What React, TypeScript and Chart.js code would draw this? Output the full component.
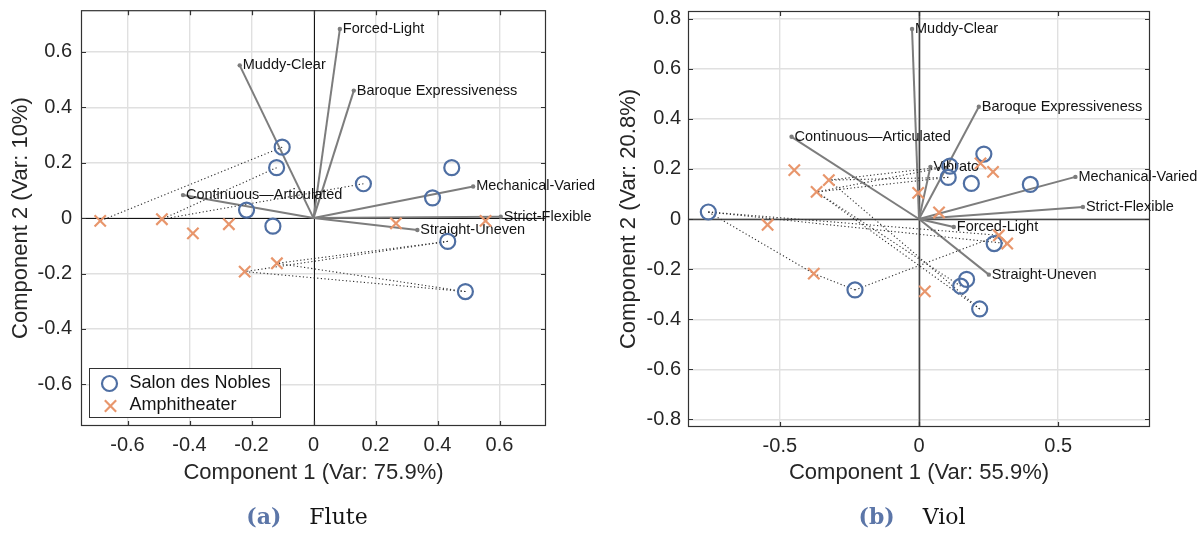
import React, { useEffect, useRef } from "react";
import { Chart, registerables } from "chart.js";

Chart.register(...registerables);

const SANS = '"Liberation Sans", Arial, Helvetica, sans-serif';
const SERIF = '"DejaVu Serif", "Liberation Serif", serif';

const SALON_COLOR = "rgb(79,111,163)";
const AMPH_COLOR = "rgb(232,150,108)";
const LOADING_COLOR = "rgb(125,125,125)";
const LINK_COLOR = "rgb(45,45,45)";
const TEXT_COLOR = "rgb(38,38,38)";
const GRID_COLOR = "rgb(224,224,224)";
const FRAME_COLOR = "rgb(50,50,50)";

const seriesNames = ["Salon des Nobles", "Amphitheater"];

// ---------- (a) Flute ----------
const fluteCaption = ["(a)", "Flute"];
const fluteXTicks = [-0.6, -0.4, -0.2, 0, 0.2, 0.4, 0.6];
const fluteYTicks = [-0.6, -0.4, -0.2, 0, 0.2, 0.4, 0.6];
const fluteRange = [-0.75, 0.75];
const fluteXTitle = "Component 1 (Var: 75.9%)";
const fluteYTitle = "Component 2 (Var: 10%)";
const fluteSalonX = [-0.101, -0.119, 0.161, 0.446, 0.384, -0.216, -0.131, 0.433, 0.49];
const fluteSalonY = [0.256, 0.182, 0.124, 0.182, 0.073, 0.029, -0.029, -0.084, -0.265];
const fluteAmphX = [-0.688, -0.489, -0.389, -0.273, 0.266, 0.555, -0.222, -0.118];
const fluteAmphY = [-0.01, -0.004, -0.055, -0.022, -0.019, -0.01, -0.193, -0.163];
const fluteLoadingNames = [
  "Forced-Light",
  "Muddy-Clear",
  "Baroque Expressiveness",
  "Continuous\u2014Articulated",
  "Mechanical-Varied",
  "Strict-Flexible",
  "Straight-Uneven",
];
const fluteLoadingX = [0.085, -0.238, 0.13, -0.421, 0.515, 0.604, 0.335];
const fluteLoadingY = [0.682, 0.551, 0.46, 0.083, 0.114, 0.005, -0.043];
// [salon index, amphitheater index]
const fluteLinks = [[0, 0], [1, 1], [2, 1], [7, 6], [7, 7], [8, 6], [8, 7]];

// ---------- (b) Viol ----------
const violCaption = ["(b)", "Viol"];
const violXTicks = [-0.5, 0, 0.5];
const violYTicks = [-0.8, -0.6, -0.4, -0.2, 0, 0.2, 0.4, 0.6, 0.8];
const violRange = [-0.83, 0.83];
const violXTitle = "Component 1 (Var: 55.9%)";
const violYTitle = "Component 2 (Var: 20.8%)";
const violSalonX = [-0.757, 0.111, 0.105, 0.233, 0.188, 0.4, 0.27, 0.171, 0.15, 0.218, -0.23];
const violSalonY = [0.028, 0.211, 0.166, 0.259, 0.142, 0.138, -0.098, -0.241, -0.268, -0.359, -0.283];
const violAmphX = [-0.448, -0.368, -0.324, -0.544, -0.003, 0.221, 0.266, 0.072, 0.287, 0.317, 0.021, -0.378];
const violAmphY = [0.195, 0.108, 0.155, -0.023, 0.104, 0.222, 0.188, 0.026, -0.065, -0.098, -0.289, -0.218];
const violLoadingNames = [
  "Muddy-Clear",
  "Baroque Expressiveness",
  "Continuous\u2014Articulated",
  "Vibrato",
  "Mechanical-Varied",
  "Strict-Flexible",
  "Forced-Light",
  "Straight-Uneven",
];
const violLoadingX = [-0.025, 0.215, -0.458, 0.041, 0.562, 0.589, 0.125, 0.251];
const violLoadingY = [0.758, 0.448, 0.328, 0.208, 0.168, 0.048, -0.032, -0.222];
const violLinks = [[1, 1], [2, 1], [1, 2], [2, 2], [0, 8], [0, 9], [0, 11], [10, 11], [10, 8], [9, 1], [9, 2], [8, 1]];

type Spec = {
  xTicks: number[];
  yTicks: number[];
  range: number[];
  xTitle: string;
  yTitle: string;
  salonX: number[];
  salonY: number[];
  amphX: number[];
  amphY: number[];
  loadingNames: string[];
  loadingX: number[];
  loadingY: number[];
  links: number[][];
  legend: boolean;
  zeroColor: string;
  zeroWidth: number;
};

type Layout = {
  yAxisWidth: number;
  padRight: number;
  padTop: number;
  padBottom: number;
  yTitleX: number;
  xTitleY: number;
  yTickPad: number;
  xTickPad: number;
};

const fluteSpec: Spec = {
  xTicks: fluteXTicks,
  yTicks: fluteYTicks,
  range: fluteRange,
  xTitle: fluteXTitle,
  yTitle: fluteYTitle,
  salonX: fluteSalonX,
  salonY: fluteSalonY,
  amphX: fluteAmphX,
  amphY: fluteAmphY,
  loadingNames: fluteLoadingNames,
  loadingX: fluteLoadingX,
  loadingY: fluteLoadingY,
  links: fluteLinks,
  legend: true,
  zeroColor: "rgb(20,20,20)",
  zeroWidth: 1,
};

const violSpec: Spec = {
  xTicks: violXTicks,
  yTicks: violYTicks,
  range: violRange,
  xTitle: violXTitle,
  yTitle: violYTitle,
  salonX: violSalonX,
  salonY: violSalonY,
  amphX: violAmphX,
  amphY: violAmphY,
  loadingNames: violLoadingNames,
  loadingX: violLoadingX,
  loadingY: violLoadingY,
  links: violLinks,
  legend: false,
  zeroColor: "rgb(70,70,70)",
  zeroWidth: 1.6,
};

const fluteLayout: Layout = { yAxisWidth: 81, padRight: 54, padTop: 9, padBottom: 68, yTitleX: 21, xTitleY: 473, yTickPad: 9, xTickPad: 7 };
const violLayout: Layout = { yAxisWidth: 88, padRight: 52, padTop: 11, padBottom: 67, yTitleX: 29, xTitleY: 473, yTickPad: 7, xTickPad: 7 };

function fmt(v: number) {
  const n = Math.round(Number(v) * 10) / 10;
  return n === 0 ? "0" : String(n);
}

function drawCircle(ctx: CanvasRenderingContext2D, x: number, y: number) {
  ctx.beginPath();
  ctx.arc(x, y, 7.5, 0, Math.PI * 2);
  ctx.strokeStyle = SALON_COLOR;
  ctx.lineWidth = 2.2;
  ctx.stroke();
}

function drawCross(ctx: CanvasRenderingContext2D, x: number, y: number) {
  const d = 8 * Math.SQRT1_2;
  ctx.beginPath();
  ctx.moveTo(x - d, y - d);
  ctx.lineTo(x + d, y + d);
  ctx.moveTo(x + d, y - d);
  ctx.lineTo(x - d, y + d);
  ctx.strokeStyle = AMPH_COLOR;
  ctx.lineWidth = 2.2;
  ctx.stroke();
}

function makePlugin(s: Spec, L: Layout) {
  return {
    id: "biplotFrame",
    beforeDatasetsDraw(chart: any) {
      const { ctx, chartArea: a, scales } = chart;
      const sx = scales.x;
      const sy = scales.y;
      ctx.save();
      // zero lines
      ctx.strokeStyle = s.zeroColor;
      ctx.lineWidth = s.zeroWidth;
      const x0 = Math.round(sx.getPixelForValue(0)) + 0.5;
      const y0 = Math.round(sy.getPixelForValue(0)) + 0.5;
      ctx.beginPath();
      ctx.moveTo(x0, a.top);
      ctx.lineTo(x0, a.bottom);
      ctx.moveTo(a.left, y0);
      ctx.lineTo(a.right, y0);
      ctx.stroke();
      // frame
      ctx.strokeStyle = FRAME_COLOR;
      ctx.lineWidth = 1.2;
      ctx.strokeRect(a.left + 0.5, a.top + 0.5, a.right - a.left - 1, a.bottom - a.top - 1);
      // inward tick marks
      const tl = 5;
      ctx.beginPath();
      s.xTicks.forEach((v) => {
        const px = Math.round(sx.getPixelForValue(v)) + 0.5;
        ctx.moveTo(px, a.bottom);
        ctx.lineTo(px, a.bottom - tl);
        ctx.moveTo(px, a.top);
        ctx.lineTo(px, a.top + tl);
      });
      s.yTicks.forEach((v) => {
        const py = Math.round(sy.getPixelForValue(v)) + 0.5;
        ctx.moveTo(a.left, py);
        ctx.lineTo(a.left + tl, py);
        ctx.moveTo(a.right, py);
        ctx.lineTo(a.right - tl, py);
      });
      ctx.stroke();
      ctx.restore();
    },
    beforeDatasetDraw(chart: any, args: any) {
      const ds = chart.data.datasets[args.index];
      if (ds.label !== seriesNames[0]) return;
      const { ctx, scales } = chart;
      ctx.save();
      ctx.font = `14.5px ${SANS}`;
      ctx.fillStyle = "rgb(20,20,20)";
      ctx.textAlign = "left";
      ctx.textBaseline = "middle";
      s.loadingNames.forEach((n, i) => {
        const px = scales.x.getPixelForValue(s.loadingX[i]);
        const py = scales.y.getPixelForValue(s.loadingY[i]);
        ctx.fillText(n, px + 3, py);
      });
      ctx.restore();
    },
    afterDraw(chart: any) {
      const { ctx, chartArea: a } = chart;
      ctx.save();
      ctx.fillStyle = TEXT_COLOR;
      ctx.font = `22px ${SANS}`;
      ctx.textAlign = "center";
      ctx.textBaseline = "middle";
      ctx.fillText(s.xTitle, (a.left + a.right) / 2, L.xTitleY);
      ctx.translate(L.yTitleX, (a.top + a.bottom) / 2);
      ctx.rotate(-Math.PI / 2);
      ctx.fillText(s.yTitle, 0, 0);
      ctx.restore();

      if (s.legend) {
        const bx = a.left + 8.5;
        const bw = 191;
        const bh = 49;
        const by = a.bottom - 8.5 - bh;
        ctx.save();
        ctx.fillStyle = "#ffffff";
        ctx.fillRect(bx, by, bw, bh);
        ctx.strokeStyle = FRAME_COLOR;
        ctx.lineWidth = 1;
        ctx.strokeRect(bx, by, bw, bh);
        drawCircle(ctx, bx + 20, by + 15);
        drawCross(ctx, bx + 21, by + 37.5);
        ctx.fillStyle = "rgb(20,20,20)";
        ctx.font = `18px ${SANS}`;
        ctx.textAlign = "left";
        ctx.textBaseline = "middle";
        ctx.fillText(seriesNames[0], bx + 40, by + 15);
        ctx.fillText(seriesNames[1], bx + 40, by + 37);
        ctx.restore();
      }
    },
  };
}

function buildConfig(s: Spec, L: Layout): any {
  const datasets: any[] = [];
  datasets.push({
    label: seriesNames[1],
    data: s.amphX.map((x, i) => ({ x, y: s.amphY[i] })),
    pointStyle: "crossRot",
    pointRadius: 8,
    borderWidth: 2.2,
    borderColor: AMPH_COLOR,
    backgroundColor: "rgba(0,0,0,0)",
    order: 0,
  });
  datasets.push({
    label: seriesNames[0],
    data: s.salonX.map((x, i) => ({ x, y: s.salonY[i] })),
    pointStyle: "circle",
    pointRadius: 7.5,
    borderWidth: 2.2,
    borderColor: SALON_COLOR,
    backgroundColor: "rgba(0,0,0,0)",
    order: 1,
  });
  s.links.forEach(([si, ai]) => {
    datasets.push({
      label: "link",
      data: [
        { x: s.salonX[si], y: s.salonY[si] },
        { x: s.amphX[ai], y: s.amphY[ai] },
      ],
      showLine: true,
      borderColor: LINK_COLOR,
      borderWidth: 1.1,
      borderDash: [1.2, 2.4],
      pointRadius: 0,
      order: 2,
    });
  });
  s.loadingNames.forEach((n, i) => {
    datasets.push({
      label: n,
      data: [
        { x: 0, y: 0 },
        { x: s.loadingX[i], y: s.loadingY[i] },
      ],
      showLine: true,
      borderColor: LOADING_COLOR,
      borderWidth: 2,
      pointRadius: [0, 2.2],
      pointBackgroundColor: LOADING_COLOR,
      pointBorderWidth: 0,
      order: 3,
    });
  });

  const tickFont = { family: SANS, size: 20 };
  return {
    type: "scatter",
    data: { datasets },
    options: {
      animation: false,
      responsive: false,
      devicePixelRatio: 1,
      events: [],
      layout: { padding: { left: 0, top: L.padTop, right: L.padRight, bottom: L.padBottom } },
      plugins: { legend: { display: false }, tooltip: { enabled: false } },
      scales: {
        x: {
          type: "linear",
          position: "bottom",
          min: s.range[0],
          max: s.range[1],
          afterBuildTicks: (sc: any) => {
            sc.ticks = s.xTicks.map((v) => ({ value: v }));
          },
          afterFit: (sc: any) => {
            sc.height = 40;
            sc.paddingLeft = 0;
            sc.paddingRight = 0;
          },
          grid: { color: GRID_COLOR, lineWidth: 1.4, drawTicks: false },
          border: { display: false },
          ticks: { font: tickFont, color: TEXT_COLOR, padding: L.xTickPad, maxRotation: 0, autoSkip: false, callback: (v: any) => fmt(v) },
        },
        y: {
          type: "linear",
          position: "left",
          min: s.range[0],
          max: s.range[1],
          afterBuildTicks: (sc: any) => {
            sc.ticks = s.yTicks.map((v) => ({ value: v }));
          },
          afterFit: (sc: any) => {
            sc.width = L.yAxisWidth;
            sc.paddingTop = 0;
            sc.paddingBottom = 0;
          },
          grid: { color: GRID_COLOR, lineWidth: 1.4, drawTicks: false },
          border: { display: false },
          ticks: { font: tickFont, color: TEXT_COLOR, padding: L.yTickPad, autoSkip: false, callback: (v: any) => fmt(v) },
        },
      },
    },
    plugins: [makePlugin(s, L)],
  };
}

function BiplotChart({ spec, layout, left, width }: { spec: Spec; layout: Layout; left: number; width: number }) {
  const ref = useRef<HTMLCanvasElement>(null);
  useEffect(() => {
    if (!ref.current) return;
    const chart = new Chart(ref.current, buildConfig(spec, layout));
    return () => chart.destroy();
  }, [spec, layout]);
  return (
    <canvas
      ref={ref}
      width={width}
      height={534}
      style={{ position: "absolute", left, top: 0, width, height: 534 }}
    />
  );
}

function Caption({ parts, left, width }: { parts: string[]; left: number; width: number }) {
  return (
    <div
      style={{
        position: "absolute",
        left,
        width,
        top: 502,
        textAlign: "center",
        fontFamily: SERIF,
        fontSize: 22,
        lineHeight: "28px",
        color: "rgb(20,20,20)",
        whiteSpace: "nowrap",
      }}
    >
      <span style={{ fontWeight: "bold", color: "rgb(92,118,168)" }}>{parts[0]}</span>
      <span style={{ marginLeft: 28 }}>{parts[1]}</span>
    </div>
  );
}

export default function App() {
  return (
    <div style={{ position: "absolute", left: 0, top: 0, width: 1202, height: 534, background: "#ffffff", overflow: "hidden" }}>
      <BiplotChart spec={fluteSpec} layout={fluteLayout} left={0} width={600} />
      <BiplotChart spec={violSpec} layout={violLayout} left={600} width={602} />
      <Caption parts={fluteCaption} left={0} width={614} />
      <Caption parts={violCaption} left={600} width={624} />
    </div>
  );
}
